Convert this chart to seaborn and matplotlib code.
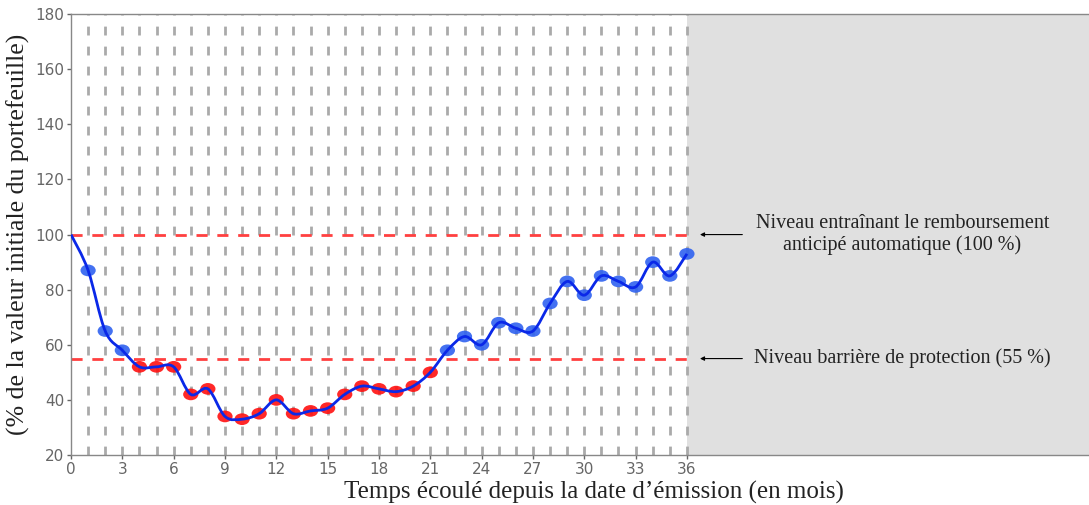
import numpy as np
import pandas as pd
import matplotlib
matplotlib.use("Agg")
import matplotlib.pyplot as plt
from matplotlib.path import Path
from matplotlib.patches import PathPatch
import seaborn as sns

# Monthly observations of the portfolio (% of initial value)
months = list(range(0, 37))
values = [100, 87, 65, 58, 52, 52, 52, 42, 44, 34, 33, 35, 40, 35, 36, 37, 42, 45,
          44, 43, 45, 50, 58, 63, 60, 68, 66, 65, 75, 83, 78, 85, 83, 81, 90, 85, 93]
autocall_level = 100
barrier_level = 55
x_ticks = list(range(0, 37, 3))
y_ticks = list(range(20, 181, 20))

data = pd.DataFrame({"mois": months, "valeur": values})
data["zone"] = np.where(data["valeur"] < barrier_level, "sous", "dessus")
obs = data[data["mois"] > 0]

sns.set_style("white")
serif = ["Liberation Serif", "DejaVu Serif"]

fig = plt.figure(figsize=(10.89, 5.05), dpi=100)
ax = fig.add_axes([0.0652, 0.099, 0.9348, 0.873])
ax.set_xlim(0, 59.5)
ax.set_ylim(20, 180)

# grey area after maturity
ax.axvspan(36, 59.5, color="#e0e0e0", lw=0, zorder=0)

# vertical dashed grid at every month
for m in months[1:]:
    ax.axvline(m, color="#aaaaaa", lw=2, ls=(0, (3.2, 4.0)), zorder=1)

# levels
ax.plot([0, 36], [autocall_level] * 2, color="#ff4040", lw=2, ls=(0, (4, 3.5)), zorder=2)
ax.plot([0, 36], [barrier_level] * 2, color="#ff4040", lw=2, ls=(0, (4, 3.5)), zorder=2)

# markers (elliptic)
ell = Path.unit_circle()
ell = Path(ell.vertices * np.array([1.3, 1.0]), ell.codes)
sns.scatterplot(data=obs, x="mois", y="valeur", hue="zone",
                palette={"sous": "#ff1010", "dessus": "#2f62f0"},
                marker=ell, s=120, linewidth=0, alpha=0.9, legend=False, ax=ax, zorder=3)

# smooth curve through the points (Catmull-Rom as cubic Bezier)
pts = np.column_stack([months, values]).astype(float)
ext = np.vstack([pts[0], pts, pts[-1]])
verts = [pts[0]]
codes = [Path.MOVETO]
for i in range(len(pts) - 1):
    p0, p1, p2, p3 = ext[i], ext[i + 1], ext[i + 2], ext[i + 3]
    verts += [p1 + (p2 - p0) / 6, p2 - (p3 - p1) / 6, p2]
    codes += [Path.CURVE4] * 3
ax.add_patch(PathPatch(Path(verts, codes), facecolor="none", edgecolor="#0a28e8",
                       lw=2, zorder=4))

ax.set_xticks(x_ticks)
ax.set_yticks(y_ticks)
ax.tick_params(axis="both", colors="#666666", labelsize=11, length=3, width=1,
               direction="out", bottom=True, left=True, pad=2)
for side in ["left", "bottom", "top"]:
    ax.spines[side].set_color("#888888")
    ax.spines[side].set_linewidth(1)
ax.spines["right"].set_visible(False)

ax.set_xlabel("Temps écoulé depuis la date d’émission (en mois)", family=serif,
              fontsize=18, color="#222222")
ax.xaxis.set_label_coords(0.514, -0.058)
ax.set_ylabel("(% de la valeur initiale du portefeuille)", family=serif,
              fontsize=18.5, color="#222222", labelpad=4)

# annotations
ax.annotate("", xy=(36.6, autocall_level), xytext=(39.4, autocall_level),
            arrowprops=dict(arrowstyle="-|>", color="black", lw=0.8, mutation_scale=6))
ax.text(48.6, autocall_level, "Niveau entraînant le remboursement\nanticipé automatique (100 %)",
        family=serif, fontsize=14.5, ha="center", va="center", color="#222222", linespacing=1.15)
ax.annotate("", xy=(36.6, barrier_level), xytext=(39.4, barrier_level),
            arrowprops=dict(arrowstyle="-|>", color="black", lw=0.8, mutation_scale=6))
ax.text(48.6, barrier_level, "Niveau barrière de protection (55 %)",
        family=serif, fontsize=14.5, ha="center", va="center", color="#222222")

fig.savefig("out.png", dpi=100)
